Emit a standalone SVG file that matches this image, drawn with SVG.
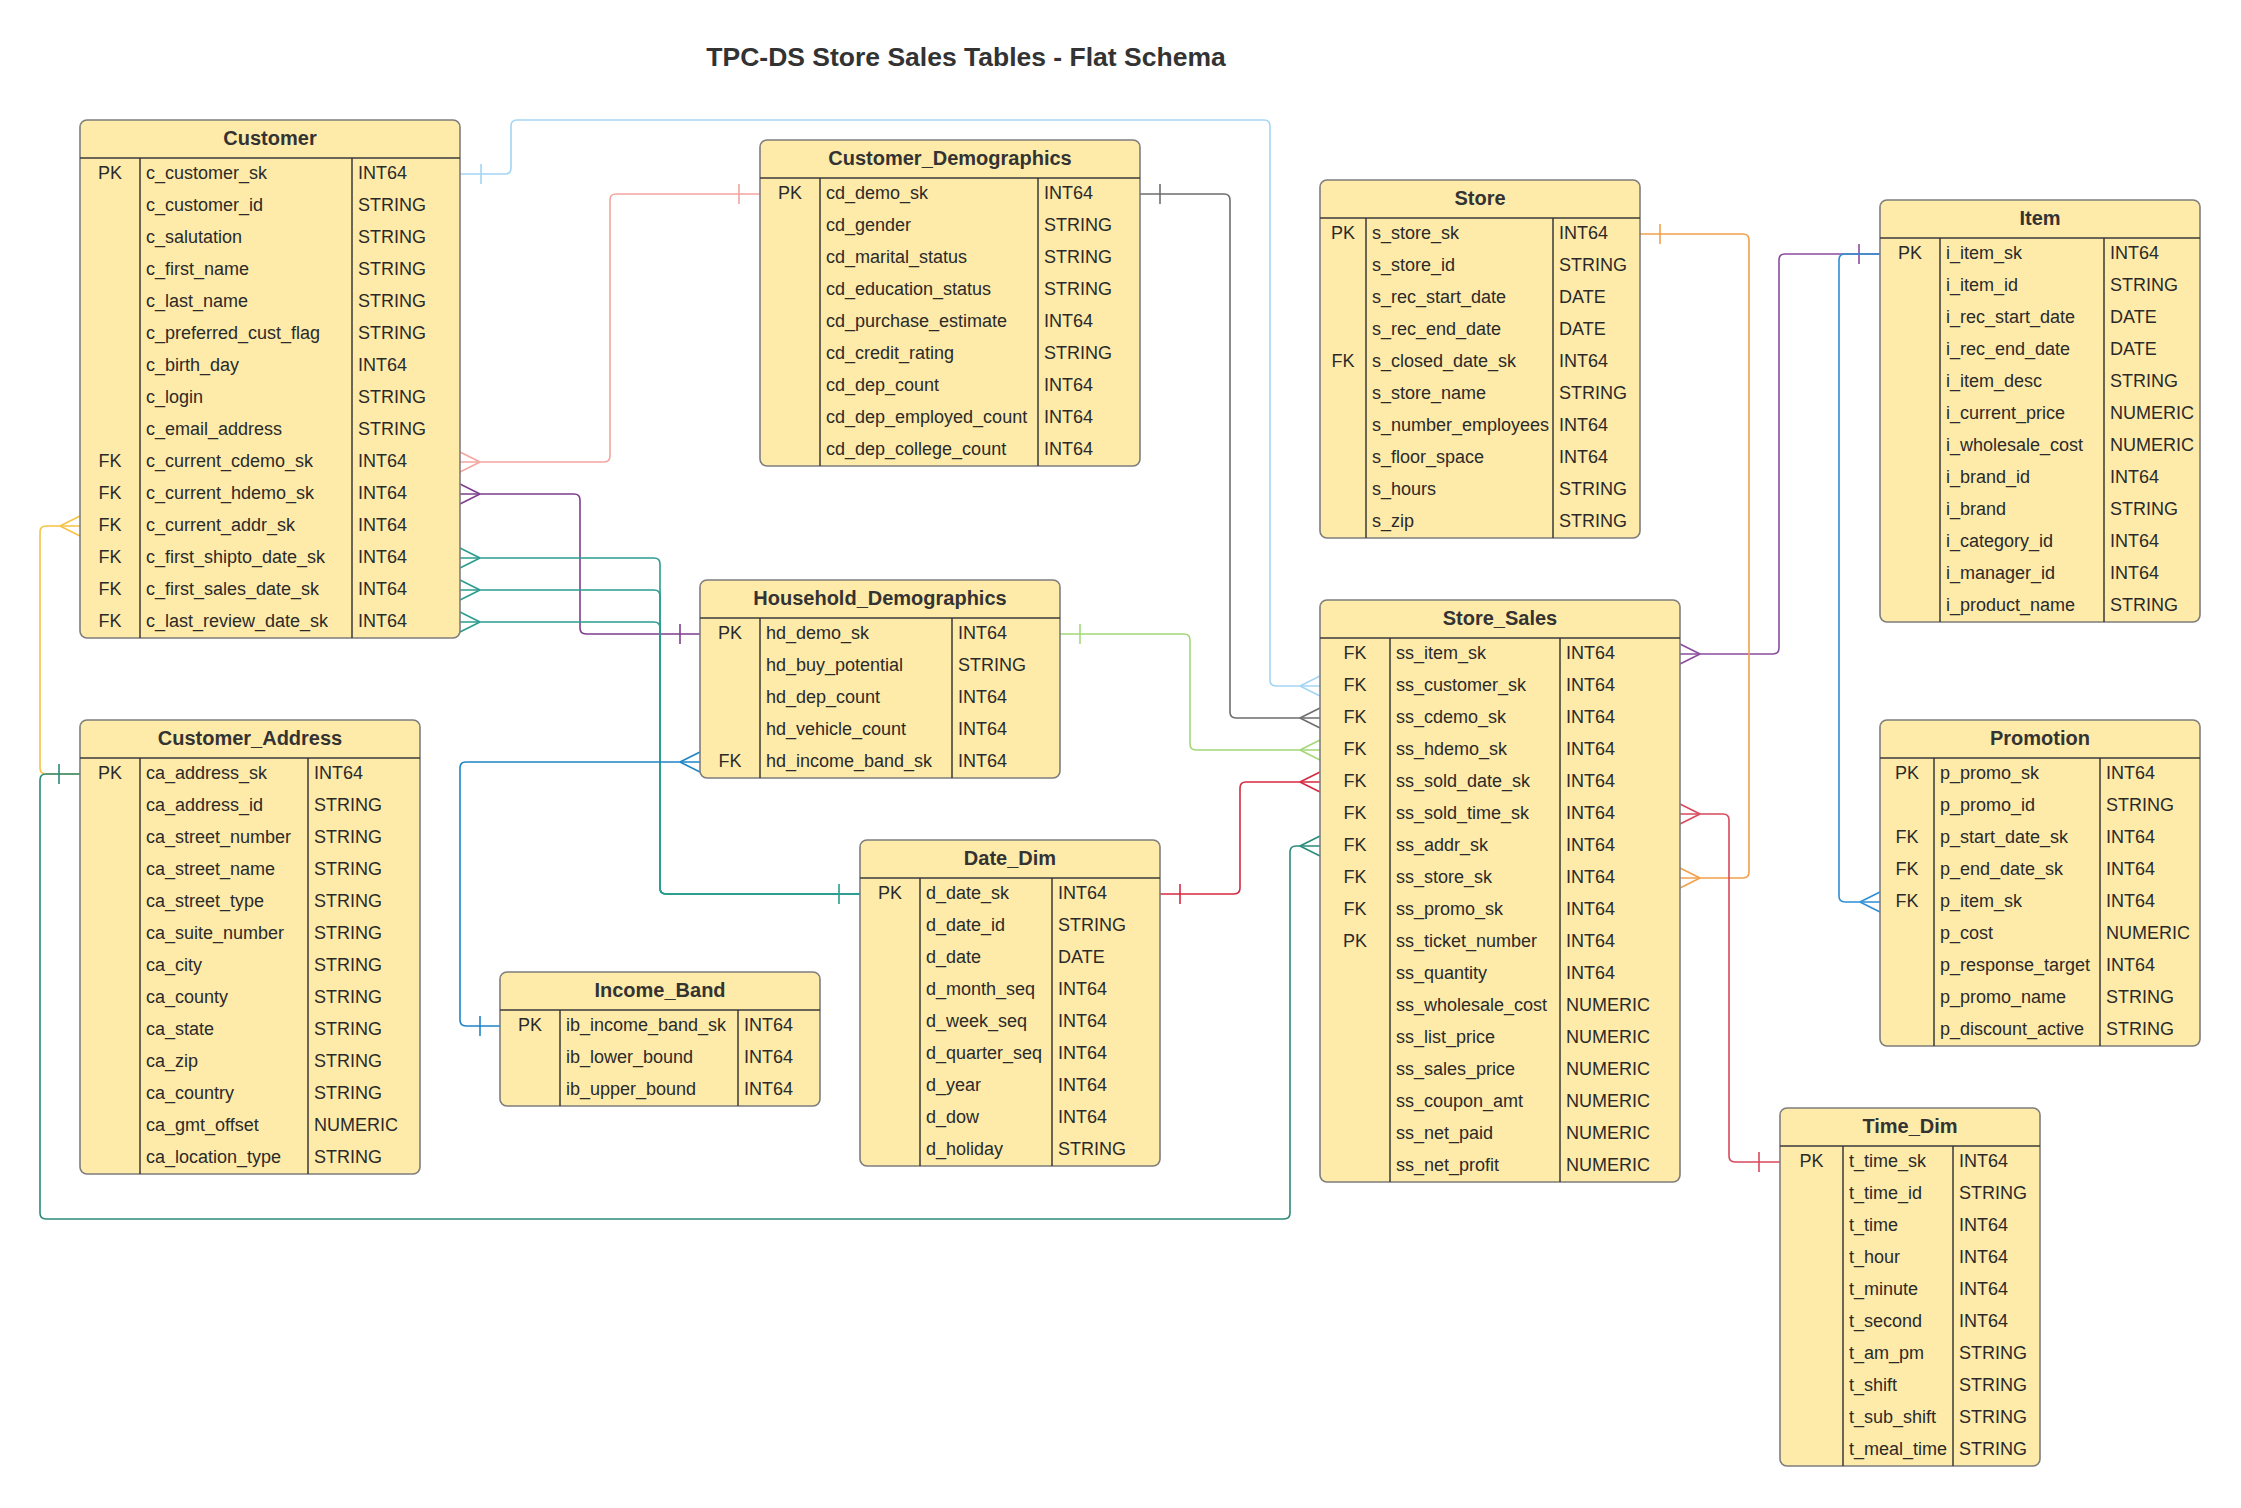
<svg xmlns="http://www.w3.org/2000/svg" width="2241" height="1508" viewBox="0 0 2241 1508">
<style>
.bg{fill:#ffffff}
.box{fill:#FFEBA9;stroke:#7d7d7d;stroke-width:1.6}
.ln{stroke:#3a3a3a;stroke-width:1.5;fill:none}
.hd{font-family:"Liberation Sans",Arial,sans-serif;font-size:20px;font-weight:bold;fill:#333;text-anchor:middle}
.t{font-family:"Liberation Sans",Arial,sans-serif;font-size:18px;fill:#2a2a2a}
.k{text-anchor:middle}
.title{font-family:"Liberation Sans",Arial,sans-serif;font-size:26.5px;font-weight:bold;fill:#333;text-anchor:middle}
.c{fill:none;stroke-width:1.6}
</style>
<rect class="bg" x="0" y="0" width="2241" height="1508"/>
<text class="title" x="966" y="66">TPC-DS Store Sales Tables - Flat Schema</text>

<g id="connectors">
  <g id="cust-ss" class="c" stroke="#A5D5F3">
    <path d="M460,174 H505 Q511,174 511,168 V126 Q511,120 517,120 H1264 Q1270,120 1270,126 V680 Q1270,686 1276,686 H1320"/>
    <path d="M481,164 V184 M1300,686 L1320,676 M1300,686 L1320,696"/>
  </g>
  <g id="cd-ss" class="c" stroke="#6E6E6E">
    <path d="M1140,194 H1224 Q1230,194 1230,200 V712 Q1230,718 1236,718 H1320"/>
    <path d="M1160,184 V204 M1300,718 L1320,708 M1300,718 L1320,728"/>
  </g>
  <g id="cust-cd" class="c" stroke="#F3A59E">
    <path d="M460,462 H604 Q610,462 610,456 V200 Q610,194 616,194 H760"/>
    <path d="M739,184 V204 M480,462 L460,452 M480,462 L460,472"/>
  </g>
  <g id="cust-hd" class="c" stroke="#7E3E8E">
    <path d="M460,494 H574 Q580,494 580,500 V628 Q580,634 586,634 H700"/>
    <path d="M680,624 V644 M480,494 L460,484 M480,494 L460,504"/>
  </g>
  <g id="cust-dd" class="c" stroke="#2A9D8F">
    <path d="M460,558 H654 Q660,558 660,564 V888 Q660,894 666,894 H860"/>
    <path d="M460,590 H654 Q660,590 660,596 V888 Q660,894 666,894 H860"/>
    <path d="M460,622 H654 Q660,622 660,628 V888 Q660,894 666,894 H860"/>
    <path d="M839,884 V904 M480,558 L460,548 M480,558 L460,568 M480,590 L460,580 M480,590 L460,600 M480,622 L460,612 M480,622 L460,632"/>
  </g>
  <g id="cust-ca" class="c" stroke="#F6C343">
    <path d="M80,526 H46 Q40,526 40,532 V768 Q40,774 46,774 H80"/>
    <path d="M60,526 L80,516 M60,526 L80,536"/>
  </g>
  <g id="ca-ss" class="c" stroke="#2B8B7B">
    <path d="M80,774 H46 Q40,774 40,780 V1213 Q40,1219 46,1219 H1284 Q1290,1219 1290,1213 V852 Q1290,846 1296,846 H1320"/>
    <path d="M59,764 V784 M1300,846 L1320,836 M1300,846 L1320,856"/>
  </g>
  <g id="hd-ib" class="c" stroke="#1E84C6">
    <path d="M700,762 H466 Q460,762 460,768 V1020 Q460,1026 466,1026 H500"/>
    <path d="M480,1016 V1036 M680,762 L700,752 M680,762 L700,772"/>
  </g>
  <g id="hd-ss" class="c" stroke="#A3D77A">
    <path d="M1060,634 H1184 Q1190,634 1190,640 V744 Q1190,750 1196,750 H1320"/>
    <path d="M1080,624 V644 M1300,750 L1320,740 M1300,750 L1320,760"/>
  </g>
  <g id="dd-ss" class="c" stroke="#D6283F">
    <path d="M1160,894 H1234 Q1240,894 1240,888 V788 Q1240,782 1246,782 H1320"/>
    <path d="M1180,884 V904 M1300,782 L1320,772 M1300,782 L1320,792"/>
  </g>
  <g id="ss-item" class="c" stroke="#8C4C9E">
    <path d="M1680,654 H1773 Q1779,654 1779,648 V260 Q1779,254 1785,254 H1880"/>
    <path d="M1859,244 V264 M1700,654 L1680,644 M1700,654 L1680,664"/>
  </g>
  <g id="promo-item" class="c" stroke="#2D8FD5">
    <path d="M1880,254 H1845 Q1839,254 1839,260 V896 Q1839,902 1845,902 H1880"/>
    <path d="M1860,902 L1880,892 M1860,902 L1880,912"/>
  </g>
  <g id="store-ss" class="c" stroke="#F2A04A">
    <path d="M1640,234 H1743 Q1749,234 1749,240 V872 Q1749,878 1743,878 H1680"/>
    <path d="M1660,224 V244 M1700,878 L1680,868 M1700,878 L1680,888"/>
  </g>
  <g id="ss-time" class="c" stroke="#D9485C">
    <path d="M1680,814 H1723 Q1729,814 1729,820 V1156 Q1729,1162 1735,1162 H1780"/>
    <path d="M1759,1152 V1172 M1700,814 L1680,804 M1700,814 L1680,824"/>
  </g>
</g>

<g id="customer">
  <rect class="box" x="80" y="120" width="380" height="518" rx="7"/>
  <path class="ln" d="M80,158 H460 M140,158 V638 M352,158 V638"/>
  <text class="hd" x="270" y="145">Customer</text>
  <text class="t k" x="110" y="179">PK</text><text class="t" x="146" y="179">c_customer_sk</text><text class="t" x="358" y="179">INT64</text>
  <text class="t" x="146" y="211">c_customer_id</text><text class="t" x="358" y="211">STRING</text>
  <text class="t" x="146" y="243">c_salutation</text><text class="t" x="358" y="243">STRING</text>
  <text class="t" x="146" y="275">c_first_name</text><text class="t" x="358" y="275">STRING</text>
  <text class="t" x="146" y="307">c_last_name</text><text class="t" x="358" y="307">STRING</text>
  <text class="t" x="146" y="339">c_preferred_cust_flag</text><text class="t" x="358" y="339">STRING</text>
  <text class="t" x="146" y="371">c_birth_day</text><text class="t" x="358" y="371">INT64</text>
  <text class="t" x="146" y="403">c_login</text><text class="t" x="358" y="403">STRING</text>
  <text class="t" x="146" y="435">c_email_address</text><text class="t" x="358" y="435">STRING</text>
  <text class="t k" x="110" y="467">FK</text><text class="t" x="146" y="467">c_current_cdemo_sk</text><text class="t" x="358" y="467">INT64</text>
  <text class="t k" x="110" y="499">FK</text><text class="t" x="146" y="499">c_current_hdemo_sk</text><text class="t" x="358" y="499">INT64</text>
  <text class="t k" x="110" y="531">FK</text><text class="t" x="146" y="531">c_current_addr_sk</text><text class="t" x="358" y="531">INT64</text>
  <text class="t k" x="110" y="563">FK</text><text class="t" x="146" y="563">c_first_shipto_date_sk</text><text class="t" x="358" y="563">INT64</text>
  <text class="t k" x="110" y="595">FK</text><text class="t" x="146" y="595">c_first_sales_date_sk</text><text class="t" x="358" y="595">INT64</text>
  <text class="t k" x="110" y="627">FK</text><text class="t" x="146" y="627">c_last_review_date_sk</text><text class="t" x="358" y="627">INT64</text>
</g>

<g id="customer_demographics">
  <rect class="box" x="760" y="140" width="380" height="326" rx="7"/>
  <path class="ln" d="M760,178 H1140 M820,178 V466 M1038,178 V466"/>
  <text class="hd" x="950" y="165">Customer_Demographics</text>
  <text class="t k" x="790" y="199">PK</text><text class="t" x="826" y="199">cd_demo_sk</text><text class="t" x="1044" y="199">INT64</text>
  <text class="t" x="826" y="231">cd_gender</text><text class="t" x="1044" y="231">STRING</text>
  <text class="t" x="826" y="263">cd_marital_status</text><text class="t" x="1044" y="263">STRING</text>
  <text class="t" x="826" y="295">cd_education_status</text><text class="t" x="1044" y="295">STRING</text>
  <text class="t" x="826" y="327">cd_purchase_estimate</text><text class="t" x="1044" y="327">INT64</text>
  <text class="t" x="826" y="359">cd_credit_rating</text><text class="t" x="1044" y="359">STRING</text>
  <text class="t" x="826" y="391">cd_dep_count</text><text class="t" x="1044" y="391">INT64</text>
  <text class="t" x="826" y="423">cd_dep_employed_count</text><text class="t" x="1044" y="423">INT64</text>
  <text class="t" x="826" y="455">cd_dep_college_count</text><text class="t" x="1044" y="455">INT64</text>
</g>

<g id="store">
  <rect class="box" x="1320" y="180" width="320" height="358" rx="7"/>
  <path class="ln" d="M1320,218 H1640 M1366,218 V538 M1553,218 V538"/>
  <text class="hd" x="1480" y="205">Store</text>
  <text class="t k" x="1343" y="239">PK</text><text class="t" x="1372" y="239">s_store_sk</text><text class="t" x="1559" y="239">INT64</text>
  <text class="t" x="1372" y="271">s_store_id</text><text class="t" x="1559" y="271">STRING</text>
  <text class="t" x="1372" y="303">s_rec_start_date</text><text class="t" x="1559" y="303">DATE</text>
  <text class="t" x="1372" y="335">s_rec_end_date</text><text class="t" x="1559" y="335">DATE</text>
  <text class="t k" x="1343" y="367">FK</text><text class="t" x="1372" y="367">s_closed_date_sk</text><text class="t" x="1559" y="367">INT64</text>
  <text class="t" x="1372" y="399">s_store_name</text><text class="t" x="1559" y="399">STRING</text>
  <text class="t" x="1372" y="431">s_number_employees</text><text class="t" x="1559" y="431">INT64</text>
  <text class="t" x="1372" y="463">s_floor_space</text><text class="t" x="1559" y="463">INT64</text>
  <text class="t" x="1372" y="495">s_hours</text><text class="t" x="1559" y="495">STRING</text>
  <text class="t" x="1372" y="527">s_zip</text><text class="t" x="1559" y="527">STRING</text>
</g>

<g id="item">
  <rect class="box" x="1880" y="200" width="320" height="422" rx="7"/>
  <path class="ln" d="M1880,238 H2200 M1940,238 V622 M2104,238 V622"/>
  <text class="hd" x="2040" y="225">Item</text>
  <text class="t k" x="1910" y="259">PK</text><text class="t" x="1946" y="259">i_item_sk</text><text class="t" x="2110" y="259">INT64</text>
  <text class="t" x="1946" y="291">i_item_id</text><text class="t" x="2110" y="291">STRING</text>
  <text class="t" x="1946" y="323">i_rec_start_date</text><text class="t" x="2110" y="323">DATE</text>
  <text class="t" x="1946" y="355">i_rec_end_date</text><text class="t" x="2110" y="355">DATE</text>
  <text class="t" x="1946" y="387">i_item_desc</text><text class="t" x="2110" y="387">STRING</text>
  <text class="t" x="1946" y="419">i_current_price</text><text class="t" x="2110" y="419">NUMERIC</text>
  <text class="t" x="1946" y="451">i_wholesale_cost</text><text class="t" x="2110" y="451">NUMERIC</text>
  <text class="t" x="1946" y="483">i_brand_id</text><text class="t" x="2110" y="483">INT64</text>
  <text class="t" x="1946" y="515">i_brand</text><text class="t" x="2110" y="515">STRING</text>
  <text class="t" x="1946" y="547">i_category_id</text><text class="t" x="2110" y="547">INT64</text>
  <text class="t" x="1946" y="579">i_manager_id</text><text class="t" x="2110" y="579">INT64</text>
  <text class="t" x="1946" y="611">i_product_name</text><text class="t" x="2110" y="611">STRING</text>
</g>

<g id="household_demographics">
  <rect class="box" x="700" y="580" width="360" height="198" rx="7"/>
  <path class="ln" d="M700,618 H1060 M760,618 V778 M952,618 V778"/>
  <text class="hd" x="880" y="605">Household_Demographics</text>
  <text class="t k" x="730" y="639">PK</text><text class="t" x="766" y="639">hd_demo_sk</text><text class="t" x="958" y="639">INT64</text>
  <text class="t" x="766" y="671">hd_buy_potential</text><text class="t" x="958" y="671">STRING</text>
  <text class="t" x="766" y="703">hd_dep_count</text><text class="t" x="958" y="703">INT64</text>
  <text class="t" x="766" y="735">hd_vehicle_count</text><text class="t" x="958" y="735">INT64</text>
  <text class="t k" x="730" y="767">FK</text><text class="t" x="766" y="767">hd_income_band_sk</text><text class="t" x="958" y="767">INT64</text>
</g>

<g id="store_sales">
  <rect class="box" x="1320" y="600" width="360" height="582" rx="7"/>
  <path class="ln" d="M1320,638 H1680 M1390,638 V1182 M1560,638 V1182"/>
  <text class="hd" x="1500" y="625">Store_Sales</text>
  <text class="t k" x="1355" y="659">FK</text><text class="t" x="1396" y="659">ss_item_sk</text><text class="t" x="1566" y="659">INT64</text>
  <text class="t k" x="1355" y="691">FK</text><text class="t" x="1396" y="691">ss_customer_sk</text><text class="t" x="1566" y="691">INT64</text>
  <text class="t k" x="1355" y="723">FK</text><text class="t" x="1396" y="723">ss_cdemo_sk</text><text class="t" x="1566" y="723">INT64</text>
  <text class="t k" x="1355" y="755">FK</text><text class="t" x="1396" y="755">ss_hdemo_sk</text><text class="t" x="1566" y="755">INT64</text>
  <text class="t k" x="1355" y="787">FK</text><text class="t" x="1396" y="787">ss_sold_date_sk</text><text class="t" x="1566" y="787">INT64</text>
  <text class="t k" x="1355" y="819">FK</text><text class="t" x="1396" y="819">ss_sold_time_sk</text><text class="t" x="1566" y="819">INT64</text>
  <text class="t k" x="1355" y="851">FK</text><text class="t" x="1396" y="851">ss_addr_sk</text><text class="t" x="1566" y="851">INT64</text>
  <text class="t k" x="1355" y="883">FK</text><text class="t" x="1396" y="883">ss_store_sk</text><text class="t" x="1566" y="883">INT64</text>
  <text class="t k" x="1355" y="915">FK</text><text class="t" x="1396" y="915">ss_promo_sk</text><text class="t" x="1566" y="915">INT64</text>
  <text class="t k" x="1355" y="947">PK</text><text class="t" x="1396" y="947">ss_ticket_number</text><text class="t" x="1566" y="947">INT64</text>
  <text class="t" x="1396" y="979">ss_quantity</text><text class="t" x="1566" y="979">INT64</text>
  <text class="t" x="1396" y="1011">ss_wholesale_cost</text><text class="t" x="1566" y="1011">NUMERIC</text>
  <text class="t" x="1396" y="1043">ss_list_price</text><text class="t" x="1566" y="1043">NUMERIC</text>
  <text class="t" x="1396" y="1075">ss_sales_price</text><text class="t" x="1566" y="1075">NUMERIC</text>
  <text class="t" x="1396" y="1107">ss_coupon_amt</text><text class="t" x="1566" y="1107">NUMERIC</text>
  <text class="t" x="1396" y="1139">ss_net_paid</text><text class="t" x="1566" y="1139">NUMERIC</text>
  <text class="t" x="1396" y="1171">ss_net_profit</text><text class="t" x="1566" y="1171">NUMERIC</text>
</g>

<g id="customer_address">
  <rect class="box" x="80" y="720" width="340" height="454" rx="7"/>
  <path class="ln" d="M80,758 H420 M140,758 V1174 M308,758 V1174"/>
  <text class="hd" x="250" y="745">Customer_Address</text>
  <text class="t k" x="110" y="779">PK</text><text class="t" x="146" y="779">ca_address_sk</text><text class="t" x="314" y="779">INT64</text>
  <text class="t" x="146" y="811">ca_address_id</text><text class="t" x="314" y="811">STRING</text>
  <text class="t" x="146" y="843">ca_street_number</text><text class="t" x="314" y="843">STRING</text>
  <text class="t" x="146" y="875">ca_street_name</text><text class="t" x="314" y="875">STRING</text>
  <text class="t" x="146" y="907">ca_street_type</text><text class="t" x="314" y="907">STRING</text>
  <text class="t" x="146" y="939">ca_suite_number</text><text class="t" x="314" y="939">STRING</text>
  <text class="t" x="146" y="971">ca_city</text><text class="t" x="314" y="971">STRING</text>
  <text class="t" x="146" y="1003">ca_county</text><text class="t" x="314" y="1003">STRING</text>
  <text class="t" x="146" y="1035">ca_state</text><text class="t" x="314" y="1035">STRING</text>
  <text class="t" x="146" y="1067">ca_zip</text><text class="t" x="314" y="1067">STRING</text>
  <text class="t" x="146" y="1099">ca_country</text><text class="t" x="314" y="1099">STRING</text>
  <text class="t" x="146" y="1131">ca_gmt_offset</text><text class="t" x="314" y="1131">NUMERIC</text>
  <text class="t" x="146" y="1163">ca_location_type</text><text class="t" x="314" y="1163">STRING</text>
</g>

<g id="date_dim">
  <rect class="box" x="860" y="840" width="300" height="326" rx="7"/>
  <path class="ln" d="M860,878 H1160 M920,878 V1166 M1052,878 V1166"/>
  <text class="hd" x="1010" y="865">Date_Dim</text>
  <text class="t k" x="890" y="899">PK</text><text class="t" x="926" y="899">d_date_sk</text><text class="t" x="1058" y="899">INT64</text>
  <text class="t" x="926" y="931">d_date_id</text><text class="t" x="1058" y="931">STRING</text>
  <text class="t" x="926" y="963">d_date</text><text class="t" x="1058" y="963">DATE</text>
  <text class="t" x="926" y="995">d_month_seq</text><text class="t" x="1058" y="995">INT64</text>
  <text class="t" x="926" y="1027">d_week_seq</text><text class="t" x="1058" y="1027">INT64</text>
  <text class="t" x="926" y="1059">d_quarter_seq</text><text class="t" x="1058" y="1059">INT64</text>
  <text class="t" x="926" y="1091">d_year</text><text class="t" x="1058" y="1091">INT64</text>
  <text class="t" x="926" y="1123">d_dow</text><text class="t" x="1058" y="1123">INT64</text>
  <text class="t" x="926" y="1155">d_holiday</text><text class="t" x="1058" y="1155">STRING</text>
</g>

<g id="income_band">
  <rect class="box" x="500" y="972" width="320" height="134" rx="7"/>
  <path class="ln" d="M500,1010 H820 M560,1010 V1106 M738,1010 V1106"/>
  <text class="hd" x="660" y="997">Income_Band</text>
  <text class="t k" x="530" y="1031">PK</text><text class="t" x="566" y="1031">ib_income_band_sk</text><text class="t" x="744" y="1031">INT64</text>
  <text class="t" x="566" y="1063">ib_lower_bound</text><text class="t" x="744" y="1063">INT64</text>
  <text class="t" x="566" y="1095">ib_upper_bound</text><text class="t" x="744" y="1095">INT64</text>
</g>

<g id="promotion">
  <rect class="box" x="1880" y="720" width="320" height="326" rx="7"/>
  <path class="ln" d="M1880,758 H2200 M1934,758 V1046 M2100,758 V1046"/>
  <text class="hd" x="2040" y="745">Promotion</text>
  <text class="t k" x="1907" y="779">PK</text><text class="t" x="1940" y="779">p_promo_sk</text><text class="t" x="2106" y="779">INT64</text>
  <text class="t" x="1940" y="811">p_promo_id</text><text class="t" x="2106" y="811">STRING</text>
  <text class="t k" x="1907" y="843">FK</text><text class="t" x="1940" y="843">p_start_date_sk</text><text class="t" x="2106" y="843">INT64</text>
  <text class="t k" x="1907" y="875">FK</text><text class="t" x="1940" y="875">p_end_date_sk</text><text class="t" x="2106" y="875">INT64</text>
  <text class="t k" x="1907" y="907">FK</text><text class="t" x="1940" y="907">p_item_sk</text><text class="t" x="2106" y="907">INT64</text>
  <text class="t" x="1940" y="939">p_cost</text><text class="t" x="2106" y="939">NUMERIC</text>
  <text class="t" x="1940" y="971">p_response_target</text><text class="t" x="2106" y="971">INT64</text>
  <text class="t" x="1940" y="1003">p_promo_name</text><text class="t" x="2106" y="1003">STRING</text>
  <text class="t" x="1940" y="1035">p_discount_active</text><text class="t" x="2106" y="1035">STRING</text>
</g>

<g id="time_dim">
  <rect class="box" x="1780" y="1108" width="260" height="358" rx="7"/>
  <path class="ln" d="M1780,1146 H2040 M1843,1146 V1466 M1953,1146 V1466"/>
  <text class="hd" x="1910" y="1133">Time_Dim</text>
  <text class="t k" x="1811.5" y="1167">PK</text><text class="t" x="1849" y="1167">t_time_sk</text><text class="t" x="1959" y="1167">INT64</text>
  <text class="t" x="1849" y="1199">t_time_id</text><text class="t" x="1959" y="1199">STRING</text>
  <text class="t" x="1849" y="1231">t_time</text><text class="t" x="1959" y="1231">INT64</text>
  <text class="t" x="1849" y="1263">t_hour</text><text class="t" x="1959" y="1263">INT64</text>
  <text class="t" x="1849" y="1295">t_minute</text><text class="t" x="1959" y="1295">INT64</text>
  <text class="t" x="1849" y="1327">t_second</text><text class="t" x="1959" y="1327">INT64</text>
  <text class="t" x="1849" y="1359">t_am_pm</text><text class="t" x="1959" y="1359">STRING</text>
  <text class="t" x="1849" y="1391">t_shift</text><text class="t" x="1959" y="1391">STRING</text>
  <text class="t" x="1849" y="1423">t_sub_shift</text><text class="t" x="1959" y="1423">STRING</text>
  <text class="t" x="1849" y="1455">t_meal_time</text><text class="t" x="1959" y="1455">STRING</text>
</g>
</svg>
